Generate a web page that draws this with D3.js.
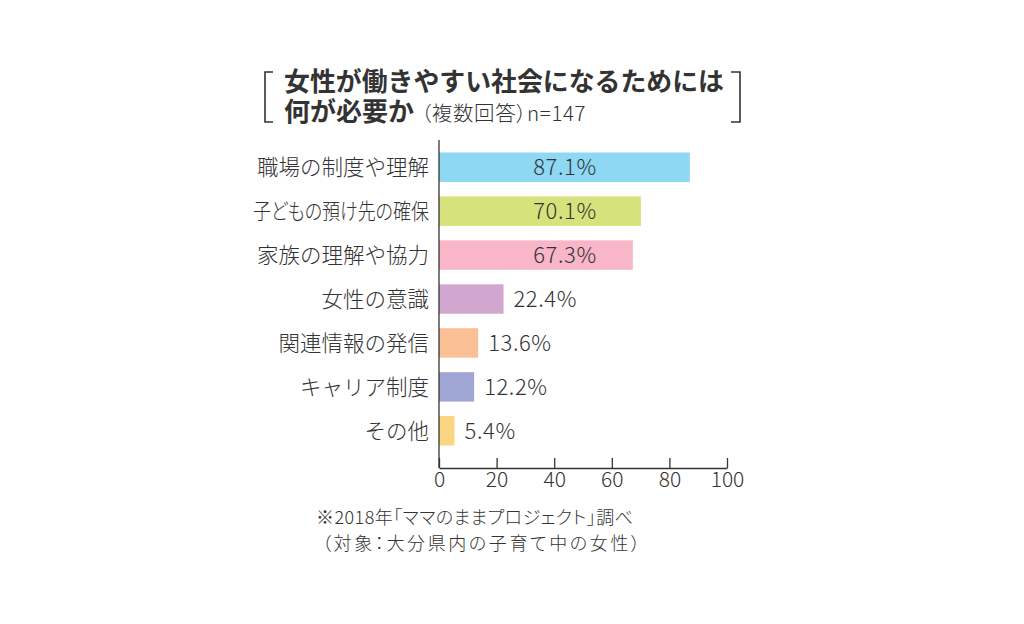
<!DOCTYPE html>
<html>
<head>
<meta charset="utf-8">
<script src="https://cdn.jsdelivr.net/npm/d3@7"></script>
<style>
  body { margin: 0; background: #fff; }
  svg { display: block; font-family: "Noto Sans CJK JP", "Noto Sans", sans-serif; }
  .axis text { font-size: 21px; fill: #333; font-family: "Noto Sans CJK JP", "Noto Sans", sans-serif; font-weight: 300; }
  .axis path, .axis line { stroke: #333; stroke-width: 1.3; }
  .palt { font-feature-settings: "palt"; }
</style>
</head>
<body>
<script>
var categories = ["職場の制度や理解", "子どもの預け先の確保", "家族の理解や協力", "女性の意識", "関連情報の発信", "キャリア制度", "その他"];
var values = [87.1, 70.1, 67.3, 22.4, 13.6, 12.2, 5.4];
var barColors = ["#8ed8f4", "#d6e27c", "#f8b6c8", "#d1a6cf", "#fbbf95", "#a0a7d5", "#fbd682"];
var xTicks = [0, 20, 40, 60, 80, 100];

var WIDTH = 1024, HEIGHT = 624;
var TEXT = "#333";
var LABEL_MAX = 176;

var svg = d3.select("body").append("svg")
  .attr("width", WIDTH)
  .attr("height", HEIGHT);

var xScale = d3.scaleLinear()
  .domain([0, 100])
  .range([439, 727]);

var yScale = d3.scaleBand()
  .domain(categories)
  .range([138, 460])
  .padding(0.33);

var AXIS_Y = 468;

// title with brackets
var br = svg.append("g").attr("fill", "none").attr("stroke", TEXT).attr("stroke-width", 1.6);
br.append("path").attr("d", "M273,72H265V122H273");
br.append("path").attr("d", "M731,72H740V122H731");

var t1 = svg.append("text")
  .attr("x", 284).attr("y", 91)
  .attr("font-size", 26).attr("font-weight", "bold").attr("fill", TEXT)
  .text("女性が働きやすい社会になるためには");
if (t1.node().getComputedTextLength() > 440) {
  t1.attr("textLength", 440).attr("lengthAdjust", "spacingAndGlyphs");
}

var t2 = svg.append("text")
  .attr("x", 284).attr("y", 121)
  .attr("fill", TEXT);
t2.append("tspan").attr("font-size", 26).attr("font-weight", "bold").text("何が必要か");
t2.append("tspan").attr("class", "palt").attr("font-size", 20.5).attr("font-weight", 300)
  .attr("dx", 7).attr("letter-spacing", 0.6).text("（複数回答）n=147");

// bars
svg.append("g").selectAll("rect")
  .data(values)
  .enter()
  .append("rect")
  .attr("x", xScale(0))
  .attr("y", function (d, i) { return yScale(categories[i]); })
  .attr("width", function (d) { return xScale(d) - xScale(0); })
  .attr("height", yScale.bandwidth())
  .attr("fill", function (d, i) { return barColors[i]; });

// value labels: inside the long bars, after the short ones
svg.append("g").selectAll("text")
  .data(values)
  .enter()
  .append("text")
  .attr("x", function (d) { return d > 50 ? 565 : xScale(d) + 10; })
  .attr("y", function (d, i) { return yScale(categories[i]) + yScale.bandwidth() / 2; })
  .attr("dy", "0.36em")
  .attr("text-anchor", function (d) { return d > 50 ? "middle" : "start"; })
  .attr("font-size", 22)
  .attr("font-weight", 300)
  .attr("letter-spacing", 0.6)
  .attr("fill", TEXT)
  .text(function (d) { return d.toFixed(1) + "%"; });

// category labels (long one gets proportional kana to fit)
svg.append("g").selectAll("text")
  .data(categories)
  .enter()
  .append("text")
  .attr("x", 429)
  .attr("y", function (d) { return yScale(d) + yScale.bandwidth() / 2; })
  .attr("dy", "0.36em")
  .attr("text-anchor", "end")
  .attr("font-size", 21.5)
  .attr("font-weight", 300)
  .attr("fill", TEXT)
  .text(function (d) { return d; })
  .each(function () {
    var el = d3.select(this);
    if (this.getComputedTextLength() > LABEL_MAX) {
      el.classed("palt", true);
      if (this.getComputedTextLength() > LABEL_MAX) {
        el.attr("textLength", LABEL_MAX).attr("lengthAdjust", "spacingAndGlyphs");
      }
    }
  });

// vertical axis line
svg.append("line")
  .attr("x1", xScale(0)).attr("x2", xScale(0))
  .attr("y1", 140).attr("y2", AXIS_Y)
  .attr("stroke", TEXT).attr("stroke-width", 1.3);

// x axis
var xAxis = d3.axisBottom(xScale)
  .tickValues(xTicks)
  .tickSize(-10)
  .tickSizeOuter(0)
  .tickPadding(4);

svg.append("g")
  .attr("class", "axis")
  .attr("transform", "translate(0," + AXIS_Y + ")")
  .call(xAxis);

// footnote
svg.append("text")
  .attr("class", "palt")
  .attr("x", 316).attr("y", 524)
  .attr("font-size", 18).attr("font-weight", 300).attr("fill", TEXT)
  .attr("textLength", 317).attr("lengthAdjust", "spacing")
  .text("※2018年「ママのままプロジェクト」調べ");

svg.append("text")
  .attr("class", "palt")
  .attr("x", 322).attr("y", 550)
  .attr("font-size", 18).attr("font-weight", 300).attr("fill", TEXT)
  .attr("textLength", 318).attr("lengthAdjust", "spacing")
  .text("（対象：大分県内の子育て中の女性）");
</script>
</body>
</html>
